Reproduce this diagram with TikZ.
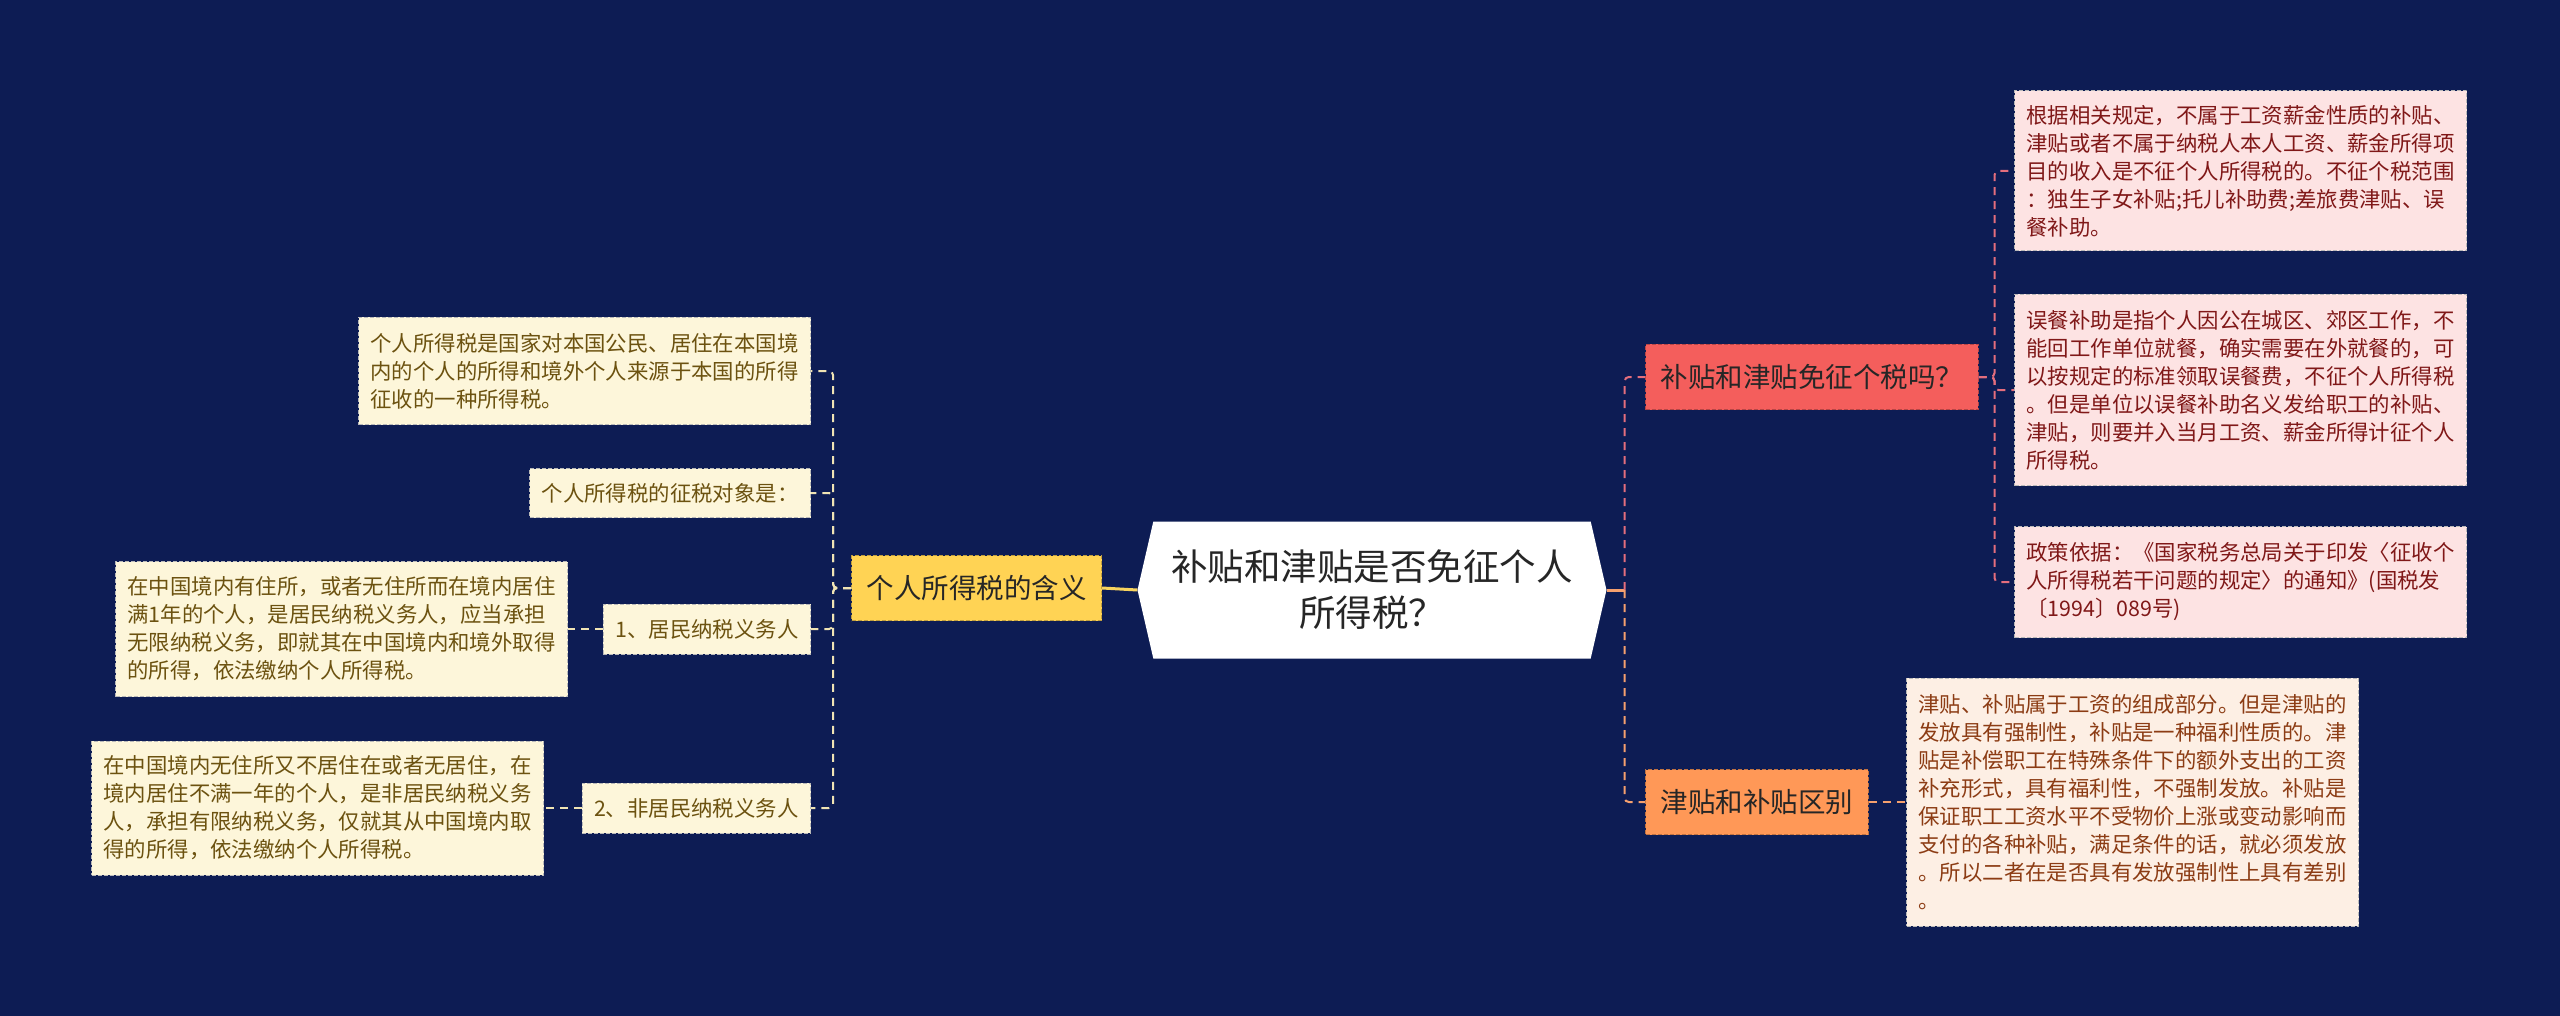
\documentclass[tikz,border=0pt]{standalone}
\usepackage{fontspec}
\setmainfont{Noto Sans CJK SC}
\usetikzlibrary{shapes.symbols}

\definecolor{bgnavy}{RGB}{13,28,84}
\definecolor{textdark}{RGB}{38,38,38}
\definecolor{olivetext}{RGB}{108,82,16}
\definecolor{pinktext}{RGB}{128,24,24}
\definecolor{peachtext}{RGB}{140,60,20}
\definecolor{creamfill}{RGB}{253,246,218}
\definecolor{pinkfill}{RGB}{253,227,227}
\definecolor{peachfill}{RGB}{253,239,228}
\definecolor{yellowfill}{RGB}{255,211,84}
\definecolor{redfill}{RGB}{244,94,92}
\definecolor{orangefill}{RGB}{255,152,87}
\definecolor{creamline}{RGB}{240,228,180}
\definecolor{yellowline}{RGB}{247,211,94}
\definecolor{pinkline}{RGB}{228,110,125}
\definecolor{orangeline}{RGB}{245,160,110}

\begin{document}
\begin{tikzpicture}[x=1pt,y=-1pt,
  centre/.style={signal,signal to=west and east,signal pointer angle=154,fill=white,minimum width=469pt,minimum height=137pt,inner sep=0pt,align=center,text=textdark,font=\fontsize{36.5}{46}\selectfont},
  topic/.style={fill=#1,draw=#1!75!black,dashed,dash pattern=on 4pt off 2pt,line width=1pt,inner xsep=15pt,inner ysep=0pt,minimum height=65pt,text=textdark,font=\fontsize{27.5}{33}\selectfont},
  leaf/.style={fill=#1,draw=gray!55,dashed,dash pattern=on 4pt off 2pt,line width=1pt,align=left,inner xsep=12pt,inner ysep=0pt,font=\fontsize{21.4}{28}\selectfont},
  link/.style={draw=#1,line width=2pt,dash pattern=on 8pt off 6pt,rounded corners=4pt}]
\useasboundingbox (0,0) rectangle (2560,1016);
\fill[bgnavy] (0,0) rectangle (2560,1016);

% centre and main branches
\node[centre] (root) at (1372,590) {补贴和津贴是否免征个人\\所得税？};
\node[topic=yellowfill,anchor=east] (mean) at (1102,588) {个人所得税的含义};
\node[topic=redfill,anchor=west] (ask) at (1645,377) {补贴和津贴免征个税吗？};
\node[topic=orangefill,anchor=west] (diff) at (1645,802) {津贴和补贴区别};

% left side
\node[leaf=creamfill,text=olivetext,anchor=east,minimum height=107pt] (tax) at (811,371) {个人所得税是国家对本国公民、居住在本国境\\内的个人的所得和境外个人来源于本国的所得\\征收的一种所得税。};
\node[leaf=creamfill,text=olivetext,anchor=east,minimum height=49pt] (obj) at (811,493) {个人所得税的征税对象是：};
\node[leaf=creamfill,text=olivetext,anchor=east,minimum height=50pt] (res) at (811,629) {1、居民纳税义务人};
\node[leaf=creamfill,text=olivetext,anchor=east,minimum height=135pt] (resd) at (568,629) {在中国境内有住所，或者无住所而在境内居住\\满1年的个人，是居民纳税义务人，应当承担\\无限纳税义务，即就其在中国境内和境外取得\\的所得，依法缴纳个人所得税。};
\node[leaf=creamfill,text=olivetext,anchor=east,minimum height=50pt] (nres) at (811,808) {2、非居民纳税义务人};
\node[leaf=creamfill,text=olivetext,anchor=east,minimum height=134pt] (nresd) at (544,808) {在中国境内无住所又不居住在或者无居住，在\\境内居住不满一年的个人，是非居民纳税义务\\人，承担有限纳税义务，仅就其从中国境内取\\得的所得，依法缴纳个人所得税。};

% right side
\node[leaf=pinkfill,text=pinktext,anchor=west,minimum height=160pt] (rule) at (2014,171) {根据相关规定，不属于工资薪金性质的补贴、\\津贴或者不属于纳税人本人工资、薪金所得项\\目的收入是不征个人所得税的。不征个税范围\\：独生子女补贴;托儿补助费;差旅费津贴、误\\餐补助。};
\node[leaf=pinkfill,text=pinktext,anchor=west,minimum height=191pt] (meal) at (2014,390) {误餐补助是指个人因公在城区、郊区工作，不\\能回工作单位就餐，确实需要在外就餐的，可\\以按规定的标准领取误餐费，不征个人所得税\\。但是单位以误餐补助名义发给职工的补贴、\\津贴，则要并入当月工资、薪金所得计征个人\\所得税。};
\node[leaf=pinkfill,text=pinktext,anchor=west,minimum height=111pt] (basis) at (2014,582) {政策依据：《国家税务总局关于印发〈征收个\\人所得税若干问题的规定〉的通知》(国税发\\〔1994〕089号)};
\node[leaf=peachfill,text=peachtext,anchor=west,minimum height=248pt] (part) at (1906,802) {津贴、补贴属于工资的组成部分。但是津贴的\\发放具有强制性，补贴是一种福利性质的。津\\贴是补偿职工在特殊条件下的额外支出的工资\\补充形式，具有福利性，不强制发放。补贴是\\保证职工工资水平不受物价上涨或变动影响而\\支付的各种补贴，满足条件的话，就必须发放\\。所以二者在是否具有发放强制性上具有差别\\。};

% connectors
\draw[yellowline,line width=3pt] (root.west) -- (mean.east);
\foreach \kid in {tax,obj,res,nres}
  \draw[link=creamline] (mean.west) -- ++(-18,0) |- (\kid.east);
\draw[link=creamline] (res.west) -- (resd.east);
\draw[link=creamline] (nres.west) -- (nresd.east);
\draw[orangeline,line width=3pt] (root.east) -- ++(18,0) coordinate (hub);
\draw[link=pinkline] (hub) |- (ask.west);
\draw[link=orangeline] (hub) |- (diff.west);
\foreach \kid in {rule,meal,basis}
  \draw[link=pinkline] (ask.east) -- ++(16,0) |- (\kid.west);
\draw[link=orangeline] (diff.east) -- (part.west);
\end{tikzpicture}
\end{document}
